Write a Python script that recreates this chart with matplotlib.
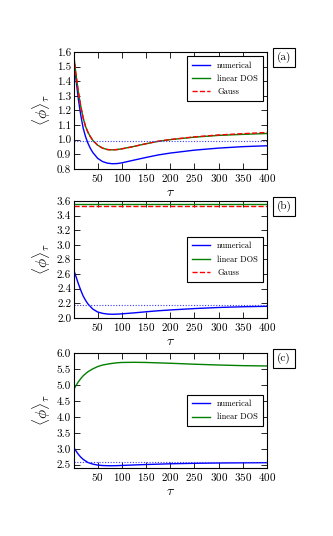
import numpy as np
import matplotlib
matplotlib.use("Agg")
import matplotlib.pyplot as plt

plt.rcParams['font.family'] = 'serif'
plt.rcParams['font.serif'] = ['cmr10', 'DejaVu Serif']
plt.rcParams['mathtext.fontset'] = 'cm'
plt.rcParams['axes.unicode_minus'] = False
plt.rcParams['axes.formatter.use_mathtext'] = True

# panel (a)
tau_a = [1, 5, 10, 15, 20, 25, 30, 35, 40, 50, 60, 70, 80, 90, 100, 120, 150, 175, 200, 250, 300, 350, 400]
num_a = [1.55, 1.42, 1.28, 1.17, 1.08, 1.02, 0.975, 0.94, 0.912, 0.872, 0.850, 0.839, 0.835, 0.836, 0.841,
         0.856, 0.878, 0.895, 0.908, 0.928, 0.942, 0.952, 0.958]
lin_a = [1.57, 1.45, 1.33, 1.23, 1.15, 1.09, 1.05, 1.02, 0.995, 0.962, 0.942, 0.932, 0.930, 0.932, 0.937,
         0.950, 0.972, 0.988, 1.000, 1.017, 1.029, 1.036, 1.042]
gauss_a = [1.57, 1.45, 1.33, 1.23, 1.15, 1.09, 1.05, 1.02, 0.995, 0.962, 0.942, 0.932, 0.930, 0.932, 0.937,
           0.950, 0.972, 0.989, 1.001, 1.019, 1.032, 1.041, 1.049]
ref_a = 0.992

# panel (b)
tau_b = [1, 5, 10, 15, 20, 25, 30, 40, 50, 60, 70, 80, 90, 100, 125, 150, 175, 200, 250, 300, 350, 400]
num_b = [2.65, 2.57, 2.47, 2.38, 2.30, 2.24, 2.19, 2.12, 2.08, 2.062, 2.052, 2.049, 2.051, 2.055,
         2.068, 2.083, 2.097, 2.108, 2.127, 2.142, 2.152, 2.158]
lin_b = [3.555] * len(tau_b)
gauss_b = [3.532] * len(tau_b)
ref_b = 2.17

# panel (c)
tau_c = [1, 5, 10, 15, 20, 30, 40, 50, 60, 75, 90, 100, 125, 150, 200, 250, 300, 350, 400]
num_c = [3.03, 2.94, 2.83, 2.74, 2.67, 2.57, 2.52, 2.49, 2.475, 2.468, 2.472, 2.478, 2.493, 2.507,
         2.530, 2.545, 2.555, 2.560, 2.565]
lin_c = [4.87, 4.98, 5.10, 5.20, 5.29, 5.42, 5.51, 5.58, 5.63, 5.67, 5.70, 5.71, 5.715, 5.71,
         5.685, 5.655, 5.63, 5.61, 5.60]
ref_c = 2.575

fig = plt.figure(figsize=(3.33, 5.36), dpi=100)

boxes = [[0.222, 0.685, 0.58, 0.218],
         [0.222, 0.407, 0.58, 0.218],
         [0.222, 0.127, 0.58, 0.214]]
panels = [
    (tau_a, num_a, lin_a, gauss_a, ref_a, (0.8, 1.6), np.arange(0.8, 1.61, 0.1), '(a)', 'upper right'),
    (tau_b, num_b, lin_b, gauss_b, ref_b, (2.0, 3.6), np.arange(2.0, 3.61, 0.2), '(b)', 'center right'),
    (tau_c, num_c, lin_c, None, ref_c, (2.4, 6.0), np.arange(2.5, 6.01, 0.5), '(c)', 'center right'),
]

for box, (t, num, lin, gauss, ref, ylim, yt, tag, loc) in zip(boxes, panels):
    ax = fig.add_axes(box)
    ax.plot(t, num, color='b', lw=1.0, label='numerical')
    ax.plot(t, lin, color='g', lw=1.0, label='linear DOS')
    if gauss is not None:
        ax.plot(t, gauss, color='r', lw=1.0, ls='--', label='Gauss')
    ax.axhline(ref, color='#3a3aff', lw=0.8, ls=(0, (1, 1.5)))
    ax.set_xlim(1, 400)
    ax.set_ylim(*ylim)
    ax.set_xticks(np.arange(50, 401, 50))
    ax.set_yticks(yt)
    ax.set_yticklabels(['%.1f' % v for v in yt])
    ax.tick_params(direction='in', top=True, right=True, labelsize=8, length=4, width=0.6, pad=2)
    for s in ax.spines.values():
        s.set_linewidth(0.8)
    ax.set_xlabel(r'$\tau$', fontsize=10, labelpad=2)
    ax.set_ylabel(r'$\langle\phi\rangle_\tau$', fontsize=11, labelpad=3)
    leg = ax.legend(loc=loc, fontsize=6, fancybox=False, edgecolor='black',
                    handlelength=2.2, borderpad=0.6, labelspacing=0.6, framealpha=1)
    leg.get_frame().set_linewidth(0.8)
    ax.text(1.088, 0.955, tag, transform=ax.transAxes, fontsize=8, ha='center', va='center',
            bbox=dict(boxstyle='square,pad=0.35', fc='white', ec='black', lw=0.8))

fig.savefig('out.png', dpi=100)
